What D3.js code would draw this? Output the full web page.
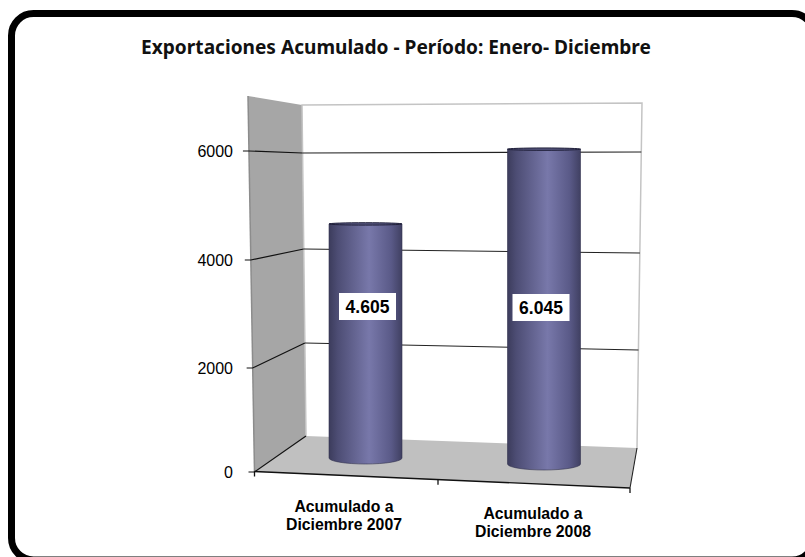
<!DOCTYPE html>
<html lang="en">
<head>
<meta charset="UTF-8">
<title>Exportaciones Acumulado</title>
<script src="https://d3js.org/d3.v7.min.js"></script>
<style>
  html, body { margin: 0; padding: 0; background: #fff; }
  svg { display: block; }
  .arial { font-family: "Liberation Sans", sans-serif; fill: #000; }
</style>
</head>
<body>
<div id="chart"></div>
<script>
const title = "Exportaciones Acumulado - Período: Enero- Diciembre";
const categories = [["Acumulado a", "Diciembre 2007"], ["Acumulado a", "Diciembre 2008"]];
const values = [4605, 6045];
const yTicks = [0, 2000, 4000, 6000];
const yTop = 7000;

const width = 805, height = 557;
const svg = d3.select("#chart").append("svg").attr("width", width).attr("height", height);

// 3d box edges, one scale per corner (perspective makes them a bit uneven)
const stops = [0, 2000, 4000, 6000, 7000];
const yFront = d3.scaleLinear().domain(stops).range([472, 368, 260, 151, 96]);
const yBack = d3.scaleLinear().domain(stops).range([436, 343, 249, 153, 105]);
const yRight = d3.scaleLinear().domain(stops).range([448, 350, 253, 152, 103]);
const xFront = d3.scaleLinear().domain([0, yTop]).range([254.5, 248]);
const xBack = d3.scaleLinear().domain([0, yTop]).range([306, 302]);
const xRight = d3.scaleLinear().domain([0, yTop]).range([637, 642]);

const xEdge = d3.scaleLinear().domain([0, 1, 2]).range([254.5, 438, 630]);
const yEdge = d3.scaleLinear().domain([0, 2]).range([471.5, 488]);
const xBar = d3.scaleLinear().domain([0, 1]).range([365.5, 544]);
const xCat = d3.scaleLinear().domain([0, 1]).range([344, 533]);
const yCat = d3.scaleLinear().domain([0, 1]).range([512, 519]);
const barRadius = 36.5;
const barScales = [
  d3.scaleLinear().domain([0, 6000]).range([458, 153]),
  d3.scaleLinear().domain([0, 6000]).range([464, 151.5])
];

const line = d3.line();

// frame
svg.append("rect")
  .attr("x", 11.5).attr("y", 13.5)
  .attr("width", 802.5).attr("height", 546.5)
  .attr("rx", 22).attr("ry", 22)
  .attr("fill", "#fff").attr("stroke", "#000").attr("stroke-width", 7);

svg.append("text")
  .attr("x", 396).attr("y", 54)
  .attr("text-anchor", "middle")
  .attr("font-family", "'Noto Sans', sans-serif")
  .attr("font-weight", 700).attr("font-size", 19.1)
  .attr("fill", "#111")
  .text(title);

// left wall and floor
svg.append("path")
  .attr("d", line([[xFront(yTop), yFront(yTop)], [xBack(yTop), yBack(yTop)], [xBack(0), yBack(0)], [xFront(0), yFront(0)]]) + "Z")
  .attr("fill", "#a6a6a6");
svg.append("path")
  .attr("d", line([[xFront(0), yFront(0)], [xBack(0), yBack(0)], [xRight(0), yRight(0)], [xEdge(2), yEdge(2)]]) + "Z")
  .attr("fill", "#c0c0c0");

// back wall outline
svg.append("path")
  .attr("d", line([[xBack(0), yBack(0)], [xBack(yTop), yBack(yTop)], [xRight(yTop), yRight(yTop)], [xRight(0), yRight(0)]]))
  .attr("fill", "none").attr("stroke", "#c4c4c4").attr("stroke-width", 1.5);
svg.append("path")
  .attr("d", line([[xFront(0), yFront(0)], [xFront(yTop), yFront(yTop)]]))
  .attr("stroke", "#8c8c8c").attr("stroke-width", 1.5);

// gridlines
yTicks.forEach(t => {
  svg.append("path")
    .attr("d", line([[xFront(t) - 6, yFront(t)], [xFront(t), yFront(t)], [xBack(t), yBack(t)]]))
    .attr("fill", "none").attr("stroke", "#111").attr("stroke-width", 1.2);
  if (t > 0) {
    svg.append("path")
      .attr("d", line([[xBack(t), yBack(t)], [xRight(t), yRight(t)]]))
      .attr("fill", "none").attr("stroke", "#222").attr("stroke-width", 1.1);
  }
});

// front edge and its ticks
svg.append("path")
  .attr("d", line([[xEdge(0), yEdge(0)], [xEdge(2), yEdge(2)]]))
  .attr("stroke", "#111").attr("stroke-width", 1.4);
svg.append("path")
  .attr("d", line([[xRight(0), yRight(0)], [xEdge(2), yEdge(2)]]))
  .attr("stroke", "#222").attr("stroke-width", 1.1);
d3.range(3).forEach(i => {
  svg.append("path")
    .attr("d", line([[xEdge(i), yEdge(i)], [xEdge(i), yEdge(i) + 5]]))
    .attr("stroke", "#111").attr("stroke-width", 1.3);
});

// y axis labels
const yAxis = d3.axisLeft(yFront).tickValues(yTicks).tickSize(0).tickPadding(0).tickFormat(d3.format("d"));
const axisG = svg.append("g").attr("transform", "translate(233,0)").call(yAxis);
axisG.select(".domain").remove();
axisG.selectAll("text")
  .attr("class", "arial")
  .attr("font-size", 16)
  .attr("fill", "#000");

// cylinders
const defs = svg.append("defs");
const grad = defs.append("linearGradient").attr("id", "barFill");
[[0, "#3c3c5c"], [0.12, "#4d4d74"], [0.55, "#7878aa"], [0.85, "#5a5a88"], [1, "#404062"]].forEach(s => {
  grad.append("stop").attr("offset", s[0]).attr("stop-color", s[1]);
});

values.forEach((v, i) => {
  const cx = xBar(i), x0 = cx - barRadius, x1 = cx + barRadius;
  const top = barScales[i](v), base = barScales[i](0);
  svg.append("path")
    .attr("d", `M${x0},${top}L${x0},${base}A${barRadius},6 0 0 0 ${x1},${base}L${x1},${top}Z`)
    .attr("fill", "url(#barFill)").attr("stroke", "#33334f").attr("stroke-width", 0.6);
  svg.append("ellipse")
    .attr("cx", cx).attr("cy", top)
    .attr("rx", barRadius).attr("ry", 1.2)
    .attr("fill", "#55557e").attr("stroke", "#20203a").attr("stroke-width", 1);
});

// value boxes
const boxW = 57, boxH = 27;
const boxY = d3.scaleLinear().domain([0, 1]).range([306.5, 307.5]);
const boxX = d3.scaleLinear().domain([0, 1]).range([367.5, 541]);
values.forEach((v, i) => {
  svg.append("rect")
    .attr("x", boxX(i) - boxW / 2).attr("y", boxY(i) - boxH / 2)
    .attr("width", boxW).attr("height", boxH)
    .attr("fill", "#fff");
  svg.append("text")
    .attr("class", "arial")
    .attr("x", boxX(i)).attr("y", boxY(i) + 6)
    .attr("text-anchor", "middle")
    .attr("font-weight", 700).attr("font-size", 17.5)
    .text(d3.format(",")(v).replace(",", "."));
});

// category labels
categories.forEach((lines, i) => {
  lines.forEach((s, j) => {
    svg.append("text")
      .attr("class", "arial")
      .attr("x", xCat(i)).attr("y", yCat(i) + j * 18)
      .attr("text-anchor", "middle")
      .attr("font-weight", 700).attr("font-size", 15.8)
      .text(s);
  });
});
</script>
</body>
</html>
